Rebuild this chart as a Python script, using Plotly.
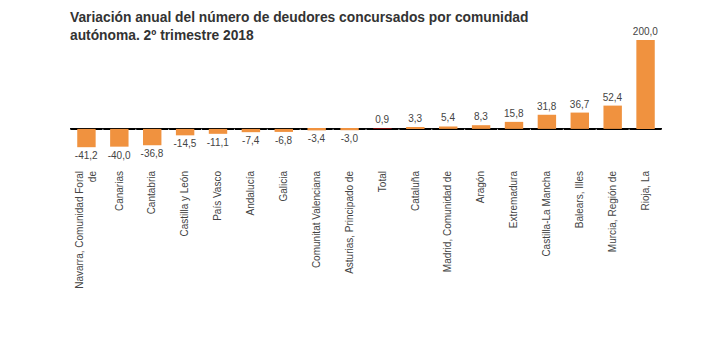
import plotly.graph_objects as go

# Annual change (%) in number of insolvent debtors by autonomous community, Q2 2018
regions = [
    "Navarra, Comunidad Foral<br>de", "Canarias", "Cantabria", "Castilla y León",
    "País Vasco", "Andalucía", "Galicia", "Comunitat Valenciana",
    "Asturias, Principado de", "Total", "Cataluña", "Madrid, Comunidad de",
    "Aragón", "Extremadura", "Castilla-La Mancha", "Balears, Illes",
    "Murcia, Región de", "Rioja, La",
]
values = [
    -41.2, -40.0, -36.8, -14.5, -11.1, -7.4, -6.8, -3.4, -3.0,
    0.9, 3.3, 5.4, 8.3, 15.8, 31.8, 36.7, 52.4, 200.0,
]

ORANGE = "#F0923F"
TOTAL_RED = "#7A0A0A"
FONT = "Liberation Sans, Arial, sans-serif"
colors = [TOTAL_RED if r == "Total" else ORANGE for r in regions]

fig = go.Figure(
    go.Bar(
        x=regions,
        y=values,
        marker=dict(color=colors, line=dict(width=0)),
        texttemplate="%{y:.1f}",
        textposition="outside",
        constraintext="none",
        textfont=dict(family=FONT, size=10, color="#444444"),
        cliponaxis=False,
        width=0.56,
    )
)

# small tick marks on the zero line between categories
for i in range(len(regions) + 1):
    fig.add_shape(
        type="line", xref="x", yref="y",
        x0=i - 0.5, x1=i - 0.5, y0=0, y1=-2.5,
        line=dict(color="#BBBBBB", width=1),
    )

fig.add_annotation(
    text="Variación anual del número de deudores concursados por comunidad<br>autónoma. 2º trimestre 2018",
    xref="paper", yref="paper", x=-0.003, y=1.16,
    xanchor="left", yanchor="top", align="left", showarrow=False,
    font=dict(family=FONT, size=13.8, color="#333333", weight="bold"),
)

fig.update_layout(
    width=710,
    height=338,
    margin=dict(l=70, r=48, t=30, b=170),
    paper_bgcolor="white",
    plot_bgcolor="white",
    separators=",.",
    showlegend=False,
    xaxis=dict(
        tickangle=-90,
        tickfont=dict(family=FONT, size=10, color="#444444"),
        showgrid=False,
        showline=False,
        ticks="",
        range=[-0.5, len(regions) - 0.5],
    ),
    yaxis=dict(
        range=[-88, 222.5],
        showticklabels=False,
        showgrid=False,
        zeroline=True,
        zerolinecolor="#000000",
        zerolinewidth=1.5,
        ticks="",
    ),
)

fig.write_html("out.html")
